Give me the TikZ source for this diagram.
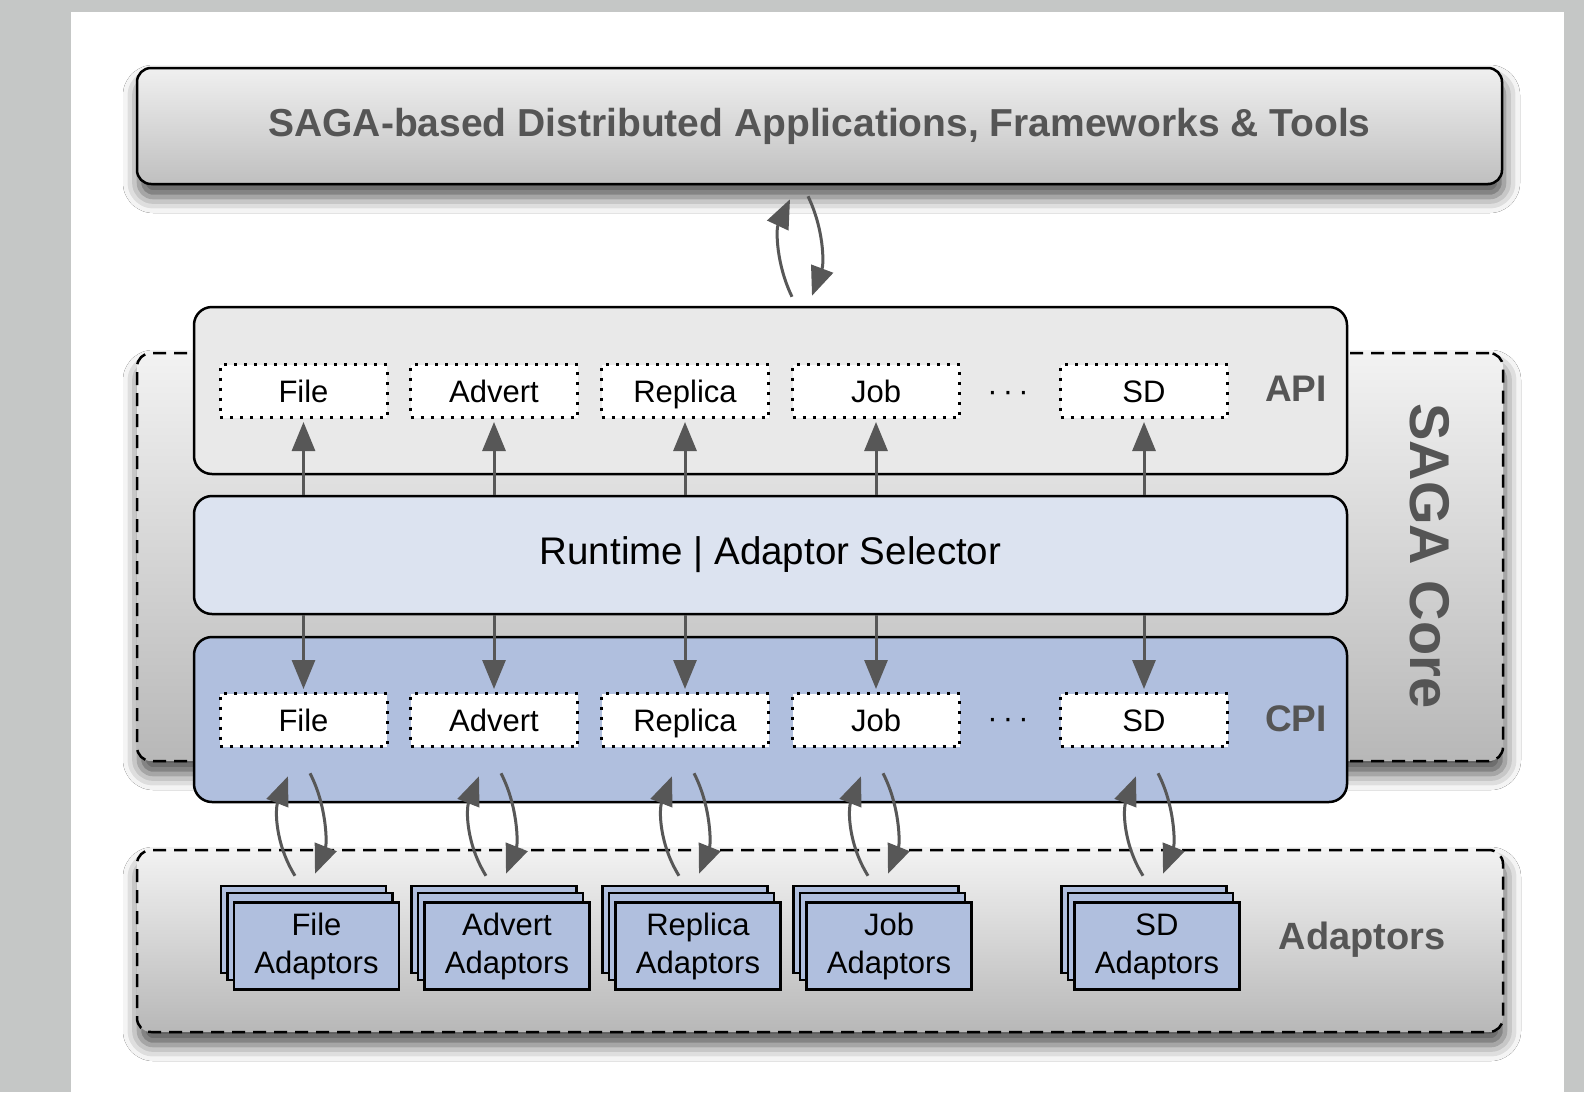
\documentclass[tikz,border=0pt]{standalone}
\usepackage{fontspec}
\setmainfont{Liberation Sans}
\usetikzlibrary{arrows.meta,shadows.blur,calc}
\definecolor{bggray}{HTML}{C5C7C6}
\definecolor{lblgray}{HTML}{555555}
\definecolor{apifill}{HTML}{E9E9E9}
\definecolor{rtfill}{HTML}{DCE3F0}
\definecolor{cpifill}{HTML}{B0BFDE}
\definecolor{arrgray}{HTML}{575757}
\tikzset{
  softshadow/.style={blur shadow={shadow xshift=2pt, shadow yshift=-13pt, shadow blur radius=16pt, shadow opacity=70}},
  topbox/.style={draw=black, line width=2.5pt, rounded corners=14pt, top color=black!6, bottom color=black!25, softshadow, inner sep=0pt},
  dashbox/.style={draw=black, line width=2.5pt, dash pattern=on 13pt off 8pt, rounded corners=14pt, top color=black!5, bottom color=black!28, softshadow, inner sep=0pt},
  layerbox/.style={draw=black, line width=2.5pt, rounded corners=18pt, minimum width=1153pt, inner sep=0pt},
  dotbox/.style={draw=black, fill=white, line width=3pt, dash pattern=on 3pt off 7pt, minimum width=167pt, minimum height=53pt, inner sep=0pt, text height=22pt, text depth=0pt, font=\fontsize{31}{36}\selectfont},
  adbox/.style={draw=black, fill=cpifill, line width=2.5pt, minimum width=165pt, minimum height=87pt, inner sep=0pt},
  lbl/.style={text=lblgray, font=\fontsize{37}{40}\selectfont\bfseries},
  arr/.style={draw=arrgray, line width=3pt, -{Triangle[length=29pt,width=23pt]}},
}
\begin{document}
\begin{tikzpicture}[x=1pt,y=-1pt]
\fill[bggray] (0,0) rectangle (1584,1092);
\fill[white] (71,12) rectangle (1564,1092);
\useasboundingbox (0,0) rectangle (1584,1092);

% outer boxes
\node[topbox, minimum width=1365pt, minimum height=116pt, text=lblgray, font=\fontsize{39}{44}\selectfont\bfseries] (top) at (819.5,126) {SAGA-based Distributed Applications, Frameworks \& Tools};
\node[dashbox, minimum width=1366pt, minimum height=408pt] (core) at (820,557) {};
\node[dashbox, minimum width=1366pt, minimum height=182pt] (adapt) at (820,941) {};

% layers
\node[layerbox, fill=apifill, minimum height=167pt] (api) at (770.5,390.5) {};
\node[layerbox, fill=rtfill, minimum height=118pt, font=\fontsize{38.5}{42}\selectfont] (rt) at (770.5,555) {Runtime | Adaptor Selector};
\node[layerbox, fill=cpifill, minimum height=165pt] (cpi) at (770.5,719.5) {};

% dotted boxes and straight arrows
\foreach \n/\t/\x in {F/File/303.5, A/Advert/494, R/Replica/685, J/Job/876, S/SD/1144} {
  \node[dotbox] (api\n) at (\x,391) {\t};
  \node[dotbox] (cpi\n) at (\x,720) {\t};
  \draw[arr] (rt.north -| api\n.south) -- ([yshift=-3pt]api\n.south);
  \draw[arr] (rt.south -| cpi\n.north) -- ([yshift=3pt]cpi\n.north);
}
\node[font=\fontsize{31}{36}\selectfont] (apidots) at (1008,396) {·\,·\,·};
\node[font=\fontsize{31}{36}\selectfont] (cpidots) at (1008,723) {·\,·\,·};

% labels
\node[lbl] (apilbl) at (1296,389) {API};
\node[lbl] (cpilbl) at (1296,719) {CPI};
\node[lbl, font=\fontsize{56}{60}\selectfont\bfseries, rotate=-90] (corelbl) at (1430,556) {SAGA Core};
\node[lbl, font=\fontsize{38}{42}\selectfont\bfseries] (adlbl) at (1362,940) {Adaptors};

% adaptor stacks
\foreach \n/\t/\x/\p in {F/File/303.5/303, A/Advert/494/494, R/Replica/685/687, J/Job/876/876, S/SD/1144/1151} {
  \node[adbox] (adb\n) at (\x,929.5) {};
  \node[adbox] (adm\n) at (\x+6.5,936.5) {};
  \node[adbox, align=center, font=\fontsize{31}{38}\selectfont] (adf\n) at (\x+13,946) {\vphantom{Fl}\t\\Adaptors};
  \coordinate (pa\n) at (\p,900);
  \draw[arr] ($(pa\n |- adb\n.north)+(-8,-9)$) .. controls +(-20,-32) and +(-13,33) .. ($(pa\n |- cpi.south)+(-15,-27)$);
  \draw[arr] ($(pa\n |- cpi.south)+(7,-30)$) .. controls +(17,33) and +(12,-30) .. ($(pa\n |- adb\n.north)+(12,-11)$);
}

% top pair of arrows
\coordinate (ptop) at (800,250);
\draw[arr] ($(ptop |- api.north)+(-8,-9)$) .. controls +(-16,-33) and +(-14,30) .. ($(ptop |- top.south)+(-10,14)$);
\draw[arr] ($(ptop |- top.south)+(8,11)$) .. controls +(16,33) and +(12,-32) .. ($(ptop |- api.north)+(12,-10)$);
\end{tikzpicture}
\end{document}
